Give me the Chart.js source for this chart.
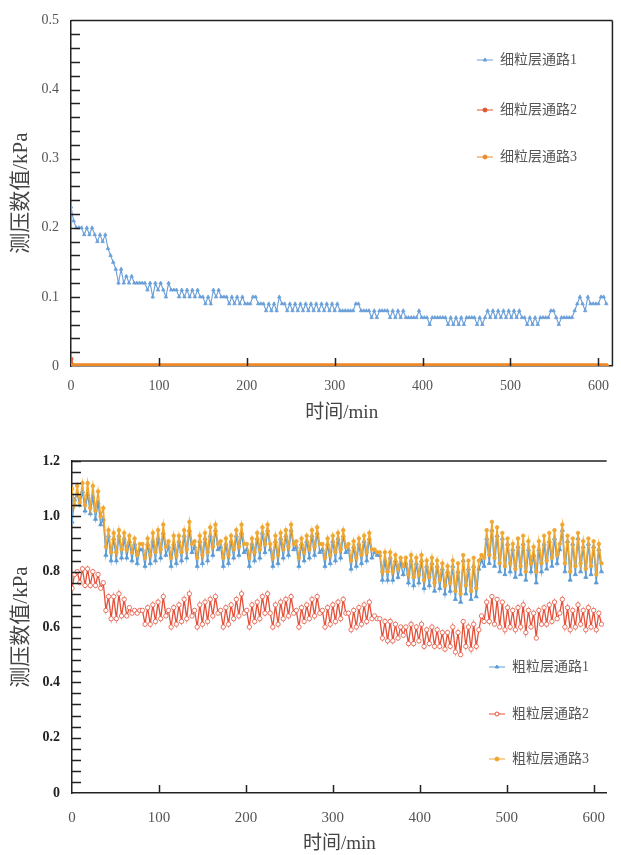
<!DOCTYPE html>
<html>
<head>
<meta charset="utf-8">
<script src="https://cdn.jsdelivr.net/npm/chart.js@4.4.0/dist/chart.umd.min.js"></script>
<style>
  body { margin: 0; background: #fff; }
  canvas { display: block; }
</style>
</head>
<body>
<canvas id="fine" width="621" height="430"></canvas>
<canvas id="coarse" width="621" height="425"></canvas>
<script>
// 时间 (min), 每 3 min 一个点
var times = [
  0,3,6,9,12,15,18,21,24,27,30,33,36,39,42,45,48,51,54,57,
  60,63,66,69,72,75,78,81,84,87,90,93,96,99,102,105,108,111,114,117,
  120,123,126,129,132,135,138,141,144,147,150,153,156,159,162,165,168,171,174,177,
  180,183,186,189,192,195,198,201,204,207,210,213,216,219,222,225,228,231,234,237,
  240,243,246,249,252,255,258,261,264,267,270,273,276,279,282,285,288,291,294,297,
  300,303,306,309,312,315,318,321,324,327,330,333,336,339,342,345,348,351,354,357,
  360,363,366,369,372,375,378,381,384,387,390,393,396,399,402,405,408,411,414,417,
  420,423,426,429,432,435,438,441,444,447,450,453,456,459,462,465,468,471,474,477,
  480,483,486,489,492,495,498,501,504,507,510,513,516,519,522,525,528,531,534,537,
  540,543,546,549,552,555,558,561,564,567,570,573,576,579,582,585,588,591,594,597,
  600,603,606,609
];

// 细粒层
var fineLabels = ['细粒层通路1', '细粒层通路2', '细粒层通路3'];
var fine1 = [
  0.23,0.21,0.20,0.20,0.20,0.19,0.20,0.19,0.20,0.19,
  0.18,0.19,0.18,0.19,0.17,0.16,0.15,0.14,0.12,0.14,
  0.12,0.13,0.12,0.13,0.12,0.12,0.12,0.12,0.12,0.11,
  0.12,0.10,0.12,0.11,0.12,0.11,0.10,0.12,0.11,0.11,
  0.11,0.10,0.11,0.10,0.11,0.10,0.11,0.10,0.11,0.10,
  0.10,0.09,0.10,0.09,0.11,0.10,0.11,0.10,0.10,0.10,
  0.09,0.10,0.09,0.10,0.09,0.10,0.09,0.09,0.09,0.10,
  0.10,0.09,0.09,0.09,0.08,0.09,0.08,0.09,0.08,0.10,
  0.09,0.09,0.08,0.09,0.08,0.09,0.08,0.09,0.08,0.09,
  0.08,0.09,0.08,0.09,0.08,0.09,0.08,0.09,0.08,0.09,
  0.08,0.09,0.08,0.08,0.08,0.08,0.08,0.08,0.09,0.09,
  0.08,0.08,0.08,0.08,0.07,0.08,0.07,0.08,0.08,0.08,
  0.08,0.07,0.08,0.07,0.08,0.07,0.08,0.07,0.07,0.07,
  0.07,0.07,0.08,0.07,0.07,0.07,0.06,0.07,0.07,0.07,
  0.07,0.07,0.07,0.06,0.07,0.06,0.07,0.06,0.07,0.06,
  0.07,0.07,0.07,0.07,0.06,0.07,0.06,0.07,0.08,0.07,
  0.08,0.07,0.08,0.07,0.08,0.07,0.08,0.07,0.08,0.07,
  0.08,0.07,0.07,0.06,0.07,0.06,0.07,0.06,0.07,0.07,
  0.07,0.07,0.08,0.08,0.07,0.06,0.07,0.07,0.07,0.07,
  0.07,0.08,0.09,0.10,0.09,0.08,0.10,0.09,0.09,0.09,
  0.09,0.10,0.10,0.09
];
var fine2 = [
  0.01,0,0,0,0,0,0,0,0,0,0,0,0,0,0,0,0,0,0,0,
  0,0,0,0,0,0,0,0,0,0,0,0,0,0,0,0,0,0,0,0,
  0,0,0,0,0,0,0,0,0,0,0,0,0,0,0,0,0,0,0,0,
  0,0,0,0,0,0,0,0,0,0,0,0,0,0,0,0,0,0,0,0,
  0,0,0,0,0,0,0,0,0,0,0,0,0,0,0,0,0,0,0,0,
  0,0,0,0,0,0,0,0,0,0,0,0,0,0,0,0,0,0,0,0,
  0,0,0,0,0,0,0,0,0,0,0,0,0,0,0,0,0,0,0,0,
  0,0,0,0,0,0,0,0,0,0,0,0,0,0,0,0,0,0,0,0,
  0,0,0,0,0,0,0,0,0,0,0,0,0,0,0,0,0,0,0,0,
  0,0,0,0,0,0,0,0,0,0,0,0,0,0,0,0,0,0,0,0,
  0,0,0,0
];
var fine3 = [
  0,0,0,0,0,0,0,0,0,0,0,0,0,0,0,0,0,0,0,0,
  0,0,0,0,0,0,0,0,0,0,0,0,0,0,0,0,0,0,0,0,
  0,0,0,0,0,0,0,0,0,0,0,0,0,0,0,0,0,0,0,0,
  0,0,0,0,0,0,0,0,0,0,0,0,0,0,0,0,0,0,0,0,
  0,0,0,0,0,0,0,0,0,0,0,0,0,0,0,0,0,0,0,0,
  0,0,0,0,0,0,0,0,0,0,0,0,0,0,0,0,0,0,0,0,
  0,0,0,0,0,0,0,0,0,0,0,0,0,0,0,0,0,0,0,0,
  0,0,0,0,0,0,0,0,0,0,0,0,0,0,0,0,0,0,0,0,
  0,0,0,0,0,0,0,0,0,0,0,0,0,0,0,0,0,0,0,0,
  0,0,0,0,0,0,0,0,0,0,0,0,0,0,0,0,0,0,0,0,
  0,0,0,0
];

// 粗粒层
var coarseLabels = ['粗粒层通路1', '粗粒层通路2', '粗粒层通路3'];
var coarse1 = [
  0.98,1.06,1.08,1.04,1.09,1.02,1.08,1.01,1.07,0.99,
  1.05,0.97,0.99,0.86,0.93,0.84,0.92,0.84,0.93,0.85,
  0.92,0.85,0.91,0.84,0.90,0.83,0.88,0.88,0.82,0.90,
  0.83,0.91,0.84,0.92,0.85,0.94,0.86,0.89,0.82,0.90,
  0.83,0.91,0.84,0.93,0.85,0.95,0.87,0.89,0.82,0.91,
  0.83,0.92,0.84,0.93,0.86,0.95,0.88,0.89,0.82,0.90,
  0.83,0.91,0.85,0.93,0.86,0.94,0.87,0.88,0.82,0.90,
  0.84,0.92,0.85,0.94,0.87,0.95,0.88,0.82,0.91,0.83,
  0.92,0.85,0.93,0.86,0.95,0.88,0.89,0.82,0.90,0.84,
  0.91,0.85,0.93,0.86,0.94,0.87,0.88,0.82,0.90,0.83,
  0.91,0.84,0.92,0.85,0.93,0.87,0.88,0.81,0.89,0.82,
  0.90,0.83,0.91,0.84,0.92,0.85,0.87,0.86,0.86,0.77,
  0.84,0.77,0.85,0.77,0.84,0.78,0.83,0.79,0.83,0.76,
  0.84,0.75,0.83,0.76,0.84,0.74,0.82,0.75,0.83,0.73,
  0.82,0.74,0.81,0.72,0.80,0.73,0.82,0.70,0.80,0.69,
  0.84,0.72,0.81,0.70,0.82,0.71,0.81,0.84,0.82,0.92,
  0.83,0.95,0.82,0.93,0.80,0.92,0.79,0.90,0.80,0.88,
  0.78,0.89,0.79,0.90,0.77,0.88,0.80,0.86,0.76,0.88,
  0.80,0.90,0.81,0.91,0.82,0.92,0.83,0.88,0.95,0.80,
  0.91,0.77,0.90,0.79,0.92,0.80,0.89,0.78,0.90,0.79,
  0.89,0.76,0.88,0.80
];
var coarse2 = [
  0.74,0.79,0.80,0.76,0.81,0.75,0.81,0.75,0.80,0.75,
  0.79,0.74,0.76,0.66,0.71,0.63,0.71,0.63,0.72,0.64,
  0.70,0.64,0.67,0.65,0.66,0.65,0.66,0.66,0.61,0.67,
  0.61,0.68,0.62,0.69,0.63,0.71,0.64,0.66,0.60,0.67,
  0.61,0.68,0.62,0.70,0.63,0.72,0.64,0.66,0.60,0.68,
  0.61,0.69,0.62,0.70,0.64,0.71,0.65,0.66,0.60,0.67,
  0.61,0.68,0.63,0.70,0.64,0.72,0.65,0.66,0.60,0.68,
  0.62,0.69,0.63,0.71,0.65,0.72,0.65,0.60,0.68,0.61,
  0.69,0.63,0.70,0.64,0.71,0.65,0.66,0.60,0.67,0.62,
  0.68,0.63,0.70,0.64,0.71,0.65,0.66,0.60,0.67,0.61,
  0.68,0.62,0.69,0.63,0.70,0.65,0.65,0.59,0.66,0.60,
  0.67,0.61,0.68,0.62,0.69,0.63,0.64,0.63,0.63,0.56,
  0.62,0.55,0.62,0.55,0.61,0.56,0.60,0.57,0.60,0.54,
  0.61,0.54,0.60,0.55,0.61,0.53,0.59,0.54,0.60,0.53,
  0.59,0.53,0.58,0.52,0.58,0.53,0.60,0.51,0.58,0.50,
  0.62,0.53,0.60,0.52,0.61,0.53,0.59,0.64,0.62,0.69,
  0.62,0.71,0.61,0.70,0.60,0.69,0.59,0.67,0.60,0.66,
  0.59,0.67,0.60,0.68,0.58,0.66,0.60,0.65,0.56,0.66,
  0.61,0.67,0.61,0.68,0.62,0.69,0.63,0.65,0.70,0.60,
  0.67,0.59,0.66,0.60,0.68,0.61,0.66,0.59,0.67,0.60,
  0.66,0.59,0.65,0.61
];
var coarse3 = [
  1.10,1.04,1.11,1.05,1.12,1.04,1.12,1.03,1.11,1.02,
  1.09,1.00,1.03,0.89,0.95,0.87,0.94,0.87,0.95,0.88,
  0.94,0.88,0.93,0.87,0.92,0.86,0.90,0.90,0.85,0.92,
  0.86,0.94,0.87,0.95,0.88,0.97,0.89,0.91,0.85,0.93,
  0.86,0.93,0.87,0.95,0.88,0.98,0.90,0.91,0.85,0.93,
  0.86,0.94,0.87,0.96,0.89,0.97,0.90,0.91,0.85,0.92,
  0.86,0.93,0.88,0.95,0.89,0.97,0.90,0.90,0.85,0.92,
  0.87,0.94,0.88,0.96,0.90,0.97,0.90,0.85,0.93,0.86,
  0.94,0.88,0.95,0.89,0.97,0.90,0.91,0.85,0.92,0.87,
  0.93,0.88,0.95,0.89,0.96,0.90,0.90,0.85,0.92,0.86,
  0.93,0.87,0.94,0.88,0.95,0.89,0.90,0.84,0.91,0.85,
  0.92,0.86,0.93,0.87,0.94,0.88,0.88,0.87,0.87,0.80,
  0.87,0.80,0.87,0.80,0.86,0.81,0.85,0.82,0.85,0.79,
  0.86,0.78,0.85,0.79,0.86,0.77,0.84,0.78,0.85,0.76,
  0.84,0.77,0.83,0.75,0.82,0.76,0.84,0.73,0.83,0.72,
  0.86,0.75,0.84,0.73,0.85,0.74,0.84,0.86,0.85,0.95,
  0.86,0.98,0.85,0.96,0.83,0.94,0.82,0.92,0.83,0.90,
  0.81,0.92,0.82,0.93,0.80,0.91,0.83,0.89,0.80,0.91,
  0.83,0.93,0.84,0.94,0.85,0.95,0.86,0.90,0.97,0.83,
  0.93,0.80,0.92,0.82,0.94,0.83,0.91,0.81,0.92,0.82,
  0.91,0.79,0.90,0.83
];

var fineYTicks = [0, 0.1, 0.2, 0.3, 0.4, 0.5];
var coarseYTicks = [0, 0.2, 0.4, 0.6, 0.8, 1.0, 1.2];
var xTicks = [0, 100, 200, 300, 400, 500, 600];

var SERIF = "'Liberation Serif', 'Noto Sans CJK SC', serif";
Chart.defaults.font.family = SERIF;
Chart.defaults.animation = false;

function pts(ys) {
  return times.map(function (t, i) { return { x: t, y: ys[i] }; });
}

// 刻度线朝内 + 上/右边框
var inwardTicks = {
  id: 'inwardTicks',
  afterDraw: function (chart, args, opts) {
    var ctx = chart.ctx, a = chart.chartArea, x = chart.scales.x, y = chart.scales.y;
    ctx.save();
    ctx.strokeStyle = '#222';
    ctx.lineWidth = 1.5;
    ctx.beginPath();
    if (opts.top) { ctx.moveTo(a.left, a.top); ctx.lineTo(a.right, a.top); }
    if (opts.right) { ctx.moveTo(a.right, a.top); ctx.lineTo(a.right, a.bottom); }
    x.ticks.forEach(function (t) {
      if (t.value === 0) return;
      var px = Math.round(x.getPixelForValue(t.value)) + 0.5;
      ctx.moveTo(px, a.bottom); ctx.lineTo(px, a.bottom - 8);
    });
    var n = Math.round((y.max - y.min) / opts.minor);
    for (var k = 1; k <= n; k++) {
      var py = Math.round(y.getPixelForValue(y.min + k * opts.minor)) + 0.5;
      ctx.moveTo(a.left, py); ctx.lineTo(a.left + 9, py);
    }
    ctx.stroke();
    ctx.restore();
  }
};

// 图例
var sideLegend = {
  id: 'sideLegend',
  afterDraw: function (chart, args, opts) {
    var ctx = chart.ctx;
    ctx.save();
    chart.data.datasets.forEach(function (ds, i) {
      var cx = opts.x, cy = opts.y[i];
      ctx.strokeStyle = ds.borderColor;
      ctx.lineWidth = 1;
      ctx.beginPath();
      ctx.moveTo(cx - 8, cy); ctx.lineTo(cx + 8, cy);
      ctx.stroke();
      ctx.fillStyle = ds.pointBackgroundColor;
      ctx.strokeStyle = ds.pointBorderColor;
      Chart.helpers.drawPoint(ctx, { pointStyle: ds.pointStyle, radius: 2, borderWidth: 1, rotation: 0 }, cx, cy);
      ctx.fillStyle = '#555';
      ctx.font = '14px ' + SERIF;
      ctx.textBaseline = 'middle';
      ctx.fillText(ds.label, cx + 15, cy);
    });
    ctx.restore();
  }
};

function series(label, ys, color, style, fill, r, lw, order) {
  return {
    label: label, data: pts(ys),
    borderColor: color, borderWidth: lw,
    pointStyle: style, pointRadius: r,
    pointBackgroundColor: fill, pointBorderColor: color, pointBorderWidth: 0.8,
    tension: 0, order: order
  };
}

function axes(o) {
  return {
    x: {
      type: 'linear', min: 0, max: o.xmax,
      afterFit: function (s) { s.height = o.xh; },
      grid: { display: false, drawTicks: false },
      border: { display: true, color: '#222', width: 1.5 },
      ticks: { stepSize: 100, includeBounds: false, padding: o.xpad, color: '#555', font: { size: o.xfont },
        callback: function (v) { return xTicks.indexOf(v) >= 0 ? String(v) : ''; } },
      title: { display: true, text: '时间/min', color: '#444', font: { size: 19 }, padding: { top: 0, bottom: o.titlePad } }
    },
    y: {
      min: 0, max: o.ymax,
      afterFit: function (s) { s.width = o.yw; },
      afterBuildTicks: function (s) { s.ticks = o.yticks.map(function (v) { return { value: v }; }); },
      grid: { display: false, drawTicks: false },
      border: { display: true, color: '#222', width: 1.5 },
      ticks: { padding: 12, color: o.ycolor, font: { size: 14, weight: o.yweight }, callback: o.yfmt },
      title: { display: true, text: '测压数值/kPa', color: '#444', font: { size: 21 }, padding: { top: 9, bottom: 0 } }
    }
  };
}

new Chart(document.getElementById('fine'), {
  type: 'line',
  data: {
    datasets: [
      series(fineLabels[0], fine1, '#6a9fd8', 'triangle', '#6a9fd8', 2, 1.1, 2),
      series(fineLabels[1], fine2, '#e0562c', 'circle', '#e0562c', 2, 1.5, 1),
      series(fineLabels[2], fine3, '#ee8a2a', 'circle', '#ee8a2a', 2.4, 2.5, 0)
    ]
  },
  options: {
    responsive: false,
    layout: { padding: { top: 20, right: 4, left: 0, bottom: 0 } },
    plugins: {
      legend: { display: false }, tooltip: { enabled: false },
      inwardTicks: { top: true, right: true, minor: 0.02 },
      sideLegend: { x: 485, y: [60, 110, 157] }
    },
    scales: axes({ xmax: 616, xh: 64, xpad: 12, xfont: 14, titlePad: 6, ymax: 0.5, yw: 71,
      yticks: fineYTicks, ycolor: '#555', yweight: 'normal',
      yfmt: function (v) { return String(Math.round(v * 10) / 10); } })
  },
  plugins: [inwardTicks, sideLegend]
});

new Chart(document.getElementById('coarse'), {
  type: 'line',
  data: {
    datasets: [
      series(coarseLabels[0], coarse1, '#5b9bd5', 'triangle', '#5b9bd5', 2.4, 1.3, 2),
      series(coarseLabels[1], coarse2, '#e4513a', 'circle', '#ffffff', 2.2, 1.3, 1),
      series(coarseLabels[2], coarse3, '#f0a732', 'circle', '#f0a732', 1.8, 1.5, 0)
    ]
  },
  options: {
    responsive: false,
    layout: { padding: { top: 31, right: 0, left: 0, bottom: 0 } },
    plugins: {
      legend: { display: false }, tooltip: { enabled: false },
      inwardTicks: { top: true, right: false, minor: 0.04 },
      sideLegend: { x: 497, y: [237, 284, 329] }
    },
    scales: axes({ xmax: 615, xh: 62, xpad: 16, xfont: 15, titlePad: 0, ymax: 1.2, yw: 72,
      yticks: coarseYTicks, ycolor: '#222', yweight: 'bold',
      yfmt: function (v) { return v === 0 ? '0' : v.toFixed(1); } })
  },
  plugins: [inwardTicks, sideLegend]
});
</script>
</body>
</html>
